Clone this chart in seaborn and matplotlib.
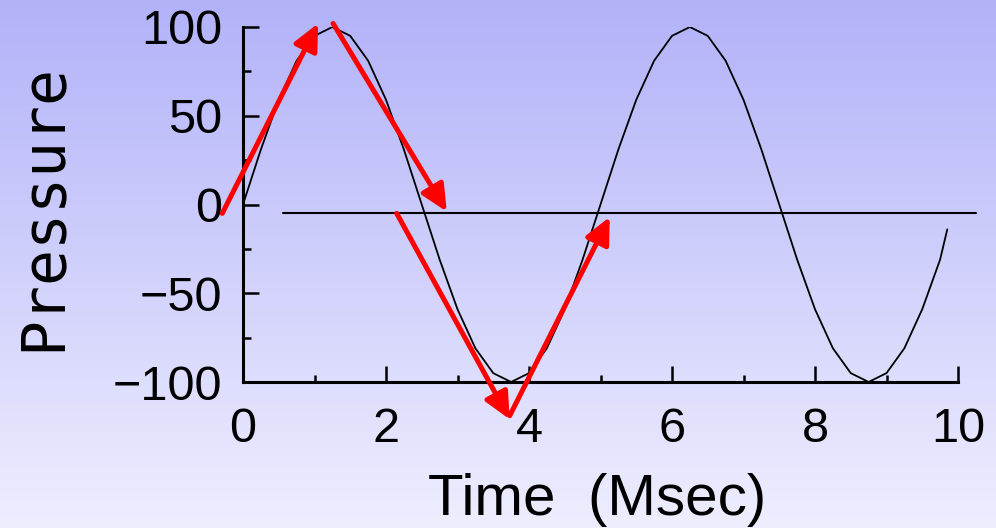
import numpy as np
import pandas as pd
import matplotlib
matplotlib.use("Agg")
import matplotlib.pyplot as plt
from matplotlib.colors import LinearSegmentedColormap
from matplotlib.ticker import MultipleLocator
import seaborn as sns

# Pressure wave sampled every 0.25 ms
time_ms = [0.0, 0.25, 0.5, 0.75, 1.0, 1.25, 1.5, 1.75, 2.0, 2.25,
           2.5, 2.75, 3.0, 3.25, 3.5, 3.75, 4.0, 4.25, 4.5, 4.75,
           5.0, 5.25, 5.5, 5.75, 6.0, 6.25, 6.5, 6.75, 7.0, 7.25,
           7.5, 7.75, 8.0, 8.25, 8.5, 8.75, 9.0, 9.25, 9.5, 9.75, 9.85]
pressure = [0, 31, 59, 81, 95, 100, 95, 81, 59, 31,
            0, -31, -59, -81, -95, -100, -95, -81, -59, -31,
            0, 31, 59, 81, 95, 100, 95, 81, 59, 31,
            0, -31, -59, -81, -95, -100, -95, -81, -59, -31, -14]

# Reference level line
ref_x = [0.56, 10.25]
ref_y = [-5, -5]

# Red arrows tracing the wave: (start_x, start_y, tip_x, tip_y)
arrow_start_x = [-0.29, 1.26, 2.15, 3.73]
arrow_start_y = [-5, 102, -5, -119]
arrow_tip_x = [1.05, 2.85, 3.73, 5.13]
arrow_tip_y = [102, -4, -121, -7]

x_ticks = [0, 2, 4, 6, 8, 10]
y_ticks = [-100, -50, 0, 50, 100]

sns.set_theme(style="ticks")
plt.rcParams["font.family"] = ["Liberation Sans", "DejaVu Sans"]

W, H = 996, 528
fig = plt.figure(figsize=(W / 100, H / 100), dpi=100)

# Vertical lavender gradient behind everything
bg = fig.add_axes([0, 0, 1, 1], zorder=0)
grad_cmap = LinearSegmentedColormap.from_list("lav", ["#eeeeff", "#b2b2f9"])
bg.imshow(np.linspace(0, 1, 256).reshape(-1, 1), aspect="auto", cmap=grad_cmap,
          origin="lower", extent=[0, 1, 0, 1])
bg.set_axis_off()

ax = fig.add_axes([243 / W, 1 - 382 / H, (958 - 243) / W, (382 - 27) / H], zorder=1)
ax.set_facecolor("none")

df = pd.DataFrame({"Time": time_ms, "Pressure": pressure})
sns.lineplot(data=df, x="Time", y="Pressure", ax=ax, color="black", lw=1.3,
             estimator=None, sort=False)
ax.plot(ref_x, ref_y, color="black", lw=1.5, clip_on=False)

for sx, sy, tx, ty in zip(arrow_start_x, arrow_start_y, arrow_tip_x, arrow_tip_y):
    ax.annotate("", xy=(tx, ty), xytext=(sx, sy), annotation_clip=False,
                arrowprops=dict(arrowstyle="-|>,head_length=0.8,head_width=0.38",
                                mutation_scale=20, color="#ff0000", lw=3.6,
                                shrinkA=0, shrinkB=0))

ax.set_xlim(0, 10)
ax.set_ylim(-100, 100)
ax.set_xticks(x_ticks)
ax.set_yticks(y_ticks)
ax.xaxis.set_minor_locator(MultipleLocator(1))
ax.yaxis.set_minor_locator(MultipleLocator(25))
ax.set_xlabel("")
ax.set_ylabel("")
sns.despine(ax=ax)
for side in ("left", "bottom"):
    ax.spines[side].set_linewidth(2.2)
    ax.spines[side].set_color("black")
ax.tick_params(which="major", direction="in", length=11.5, width=1.8,
               color="black", labelsize=35, pad=18, labelcolor="black")
ax.tick_params(axis="y", which="major", pad=15)
ax.tick_params(which="minor", direction="in", length=5.4, width=1.8, color="black")

fig.text(597 / W, 1 - 515 / H, "Time  (Msec)", ha="center", va="baseline",
         fontsize=42, color="black")
fig.text(60 / W, 1 - 207 / H, "Pressure", ha="center", va="baseline",
         rotation=90, rotation_mode="anchor", fontsize=43, color="black",
         family=["DejaVu Sans Mono", "DejaVu Sans"])

fig.savefig("out.png", dpi=100)
